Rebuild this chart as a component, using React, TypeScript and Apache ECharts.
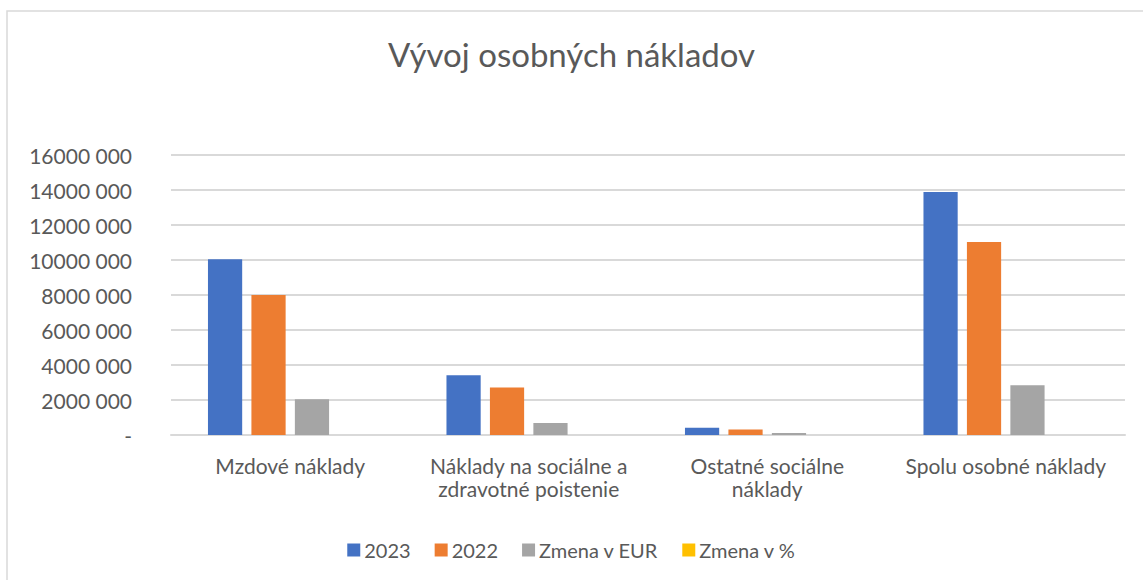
import React, { useEffect, useRef } from "react";
import * as echarts from "echarts";

const categories = [
  "Mzdové náklady",
  "Náklady na sociálne a\nzdravotné poistenie",
  "Ostatné sociálne\nnáklady",
  "Spolu osobné náklady",
];
const seriesNames = ["2023", "2022", "Zmena v EUR", "Zmena v %"];
const values2023 = [10050000, 3410000, 420000, 13880000];
const values2022 = [8000000, 2720000, 310000, 11030000];
const valuesDiffEur = [2050000, 690000, 110000, 2850000];
const valuesDiffPct = [0.26, 0.25, 0.35, 0.26];
const colors = ["#4472c4", "#ed7d31", "#a5a5a5", "#ffc000"];
const yTicks = { min: 0, max: 16000000, interval: 2000000 };

const FONT = "Lato, 'Open Sans', sans-serif";

function fmt(v: number): string {
  if (v === 0) return "-";
  const th = Math.floor(v / 1000);
  const rest = String(v % 1000).padStart(3, "0");
  return `${th} ${rest}`;
}

export default function App() {
  const ref = useRef<HTMLDivElement>(null);
  useEffect(() => {
    if (!ref.current) return;
    const chart = echarts.init(ref.current, null, { renderer: "svg" });
    const data = [values2023, values2022, valuesDiffEur, valuesDiffPct];
    chart.setOption({
      animation: false,
      textStyle: { fontFamily: FONT },
      title: {
        text: "Vývoj osobných nákladov",
        left: "center",
        top: 32,
        textStyle: { fontFamily: FONT, fontSize: 33, fontWeight: "normal", color: "#595959" },
      },
      graphic: [
        {
          type: "rect",
          shape: { x: 7, y: 11, width: 1150, height: 600 },
          style: { fill: "none", stroke: "#d9d9d9", lineWidth: 1.5 },
          silent: true,
        },
      ],
      legend: {
        top: 535,
        left: "center",
        itemWidth: 13,
        itemHeight: 13,
        itemGap: 24,
        icon: "rect",
        data: seriesNames,
        textStyle: { fontFamily: FONT, fontSize: 20, color: "#595959", padding: [0, 0, 0, -1] },
      },
      grid: { left: 171, right: 18, top: 155, bottom: 145 },
      xAxis: {
        type: "category",
        data: categories,
        axisLine: { lineStyle: { color: "#d9d9d9", width: 2 } },
        axisTick: { show: false },
        axisLabel: {
          interval: 0,
          fontFamily: FONT,
          fontSize: 21,
          color: "#595959",
          margin: 19,
          lineHeight: 23,
        },
      },
      yAxis: {
        type: "value",
        min: yTicks.min,
        max: yTicks.max,
        interval: yTicks.interval,
        axisLine: { show: false },
        axisTick: { show: false },
        splitLine: { lineStyle: { color: "#d9d9d9", width: 2 } },
        axisLabel: {
          fontFamily: FONT,
          fontSize: 21,
          color: "#595959",
          margin: 39,
          formatter: (v: number) => fmt(v),
        },
      },
      series: seriesNames.map((name, i) => ({
        name,
        type: "bar",
        data: data[i],
        barGap: "27%",
        barCategoryGap: "31%",
        itemStyle: { color: colors[i] },
      })),
    });
    return () => chart.dispose();
  }, []);
  return (
    <div
      ref={ref}
      style={{ position: "absolute", left: 0, top: 0, width: 1143, height: 580, background: "#fff" }}
    />
  );
}
